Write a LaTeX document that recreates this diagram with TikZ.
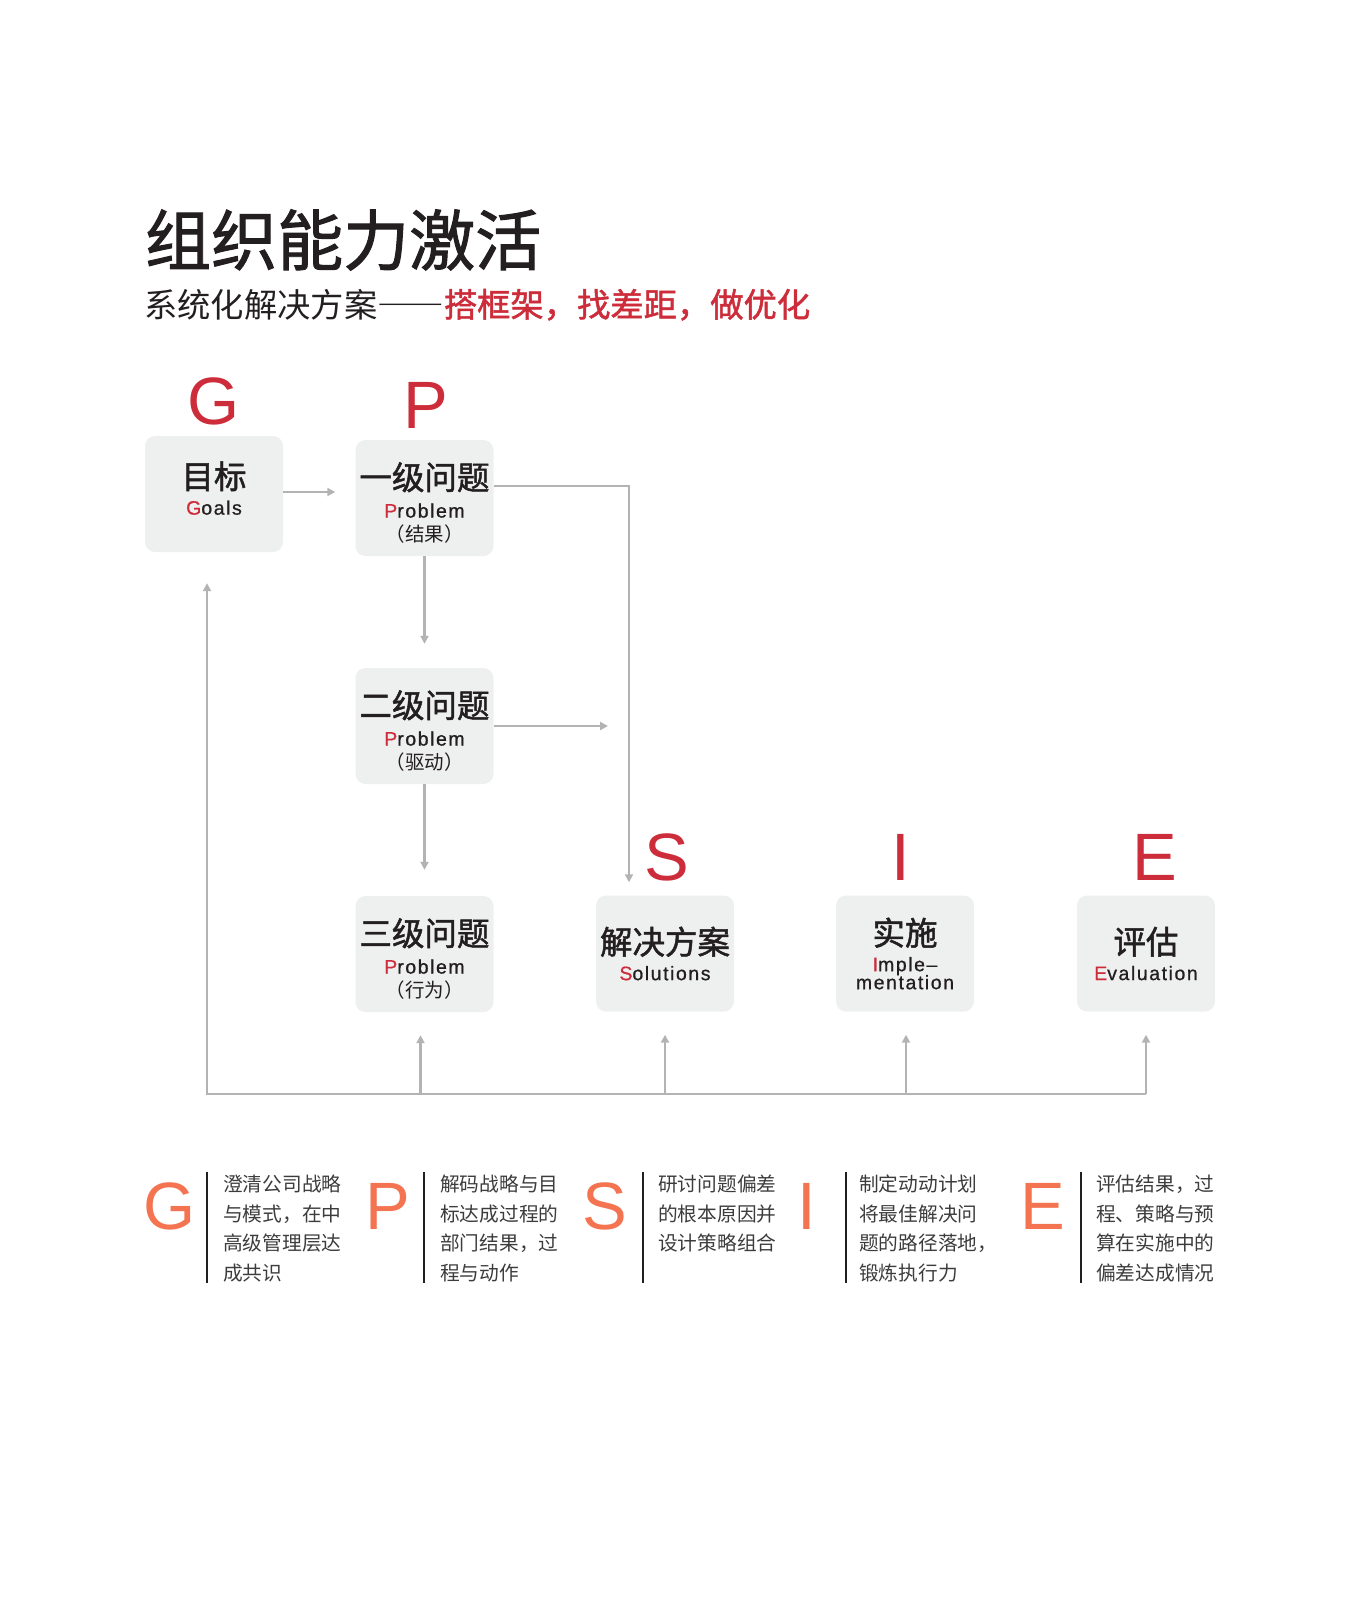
\documentclass[tikz,border=0pt]{standalone}
\usepackage{fontspec}
\setmainfont{Liberation Sans}
\newfontfamily\cjk{Noto Sans CJK SC}
\newfontfamily\cjkb[FakeBold=1.5]{Noto Sans CJK SC}
\newfontfamily\latinsp[LetterSpace=8,FakeBold=0.8]{Liberation Sans}
\usetikzlibrary{arrows.meta,positioning}
\definecolor{gpred}{HTML}{CD2D3B}
\definecolor{gporange}{HTML}{F47452}
\definecolor{boxgray}{HTML}{EEEFEF}
\definecolor{linegray}{HTML}{B3B3B3}
\definecolor{textdark}{HTML}{231F20}
\definecolor{desctext}{HTML}{3C3C3C}
\tikzstyle{gpbox}=[fill=boxgray,rounded corners=10pt,minimum width=138pt,minimum height=116pt,inner sep=0pt,align=center,text=textdark,font=\fontsize{19.5}{26}\selectfont]
\tikzstyle{bigletter}=[inner sep=0pt,anchor=base,text=gpred,font=\fontsize{67}{67}\selectfont]
\tikzstyle{lowletter}=[inner sep=0pt,anchor=base,text=gporange,font=\fontsize{67}{67}\selectfont]
\tikzstyle{conn}=[draw=linegray,line width=2.7pt,-{Triangle[length=8pt,width=8pt]}]
\tikzstyle{sepline}=[draw=textdark,line width=1.4pt]
\tikzstyle{desc}=[inner sep=0pt,anchor=base west,text=desctext,font=\cjk\fontsize{19.7}{29.5}\selectfont]
\newcommand{\boxhead}[1]{{\cjkb\fontsize{32.5}{32.5}\selectfont #1}}
\newcommand{\probhead}[1]{{\cjkb\fontsize{32.5}{32.5}\selectfont\rule{0pt}{37pt}#1}}
\newcommand{\descpar}[1]{\parbox[t]{150pt}{\baselineskip=29.5pt #1}}

\begin{document}
\begin{tikzpicture}[x=1pt,y=-1pt]
    \useasboundingbox (0,0) rectangle (1361,1613);

    \node (title) [inner sep=0pt,anchor=base west,text=textdark,font=\cjkb\fontsize{66}{66}\selectfont] at (145,265) {组织能力激活};
    \node (subtitle) [inner sep=0pt,anchor=base west,text=textdark,font=\cjk\fontsize{33.3}{33.3}\selectfont] at (144,317) {系统化解决方案――{\cjkb\color{gpred}搭框架，找差距，做优化}};

    \node (goals) [gpbox] at (214,494) {\boxhead{目标}\\{\latinsp{\color{gpred}G}oals}\rule[-12pt]{0pt}{12pt}};
    \node (p1) [gpbox] at (424.5,498) {\probhead{一级问题}\\[2pt]{\latinsp{\color{gpred}P}roblem}\\[-2pt]{\cjk （结果）}};
    \node (p2) [gpbox] at (424.5,726) {\probhead{二级问题}\\[2pt]{\latinsp{\color{gpred}P}roblem}\\[-2pt]{\cjk （驱动）}};
    \node (p3) [gpbox] at (424.5,954) {\probhead{三级问题}\\[2pt]{\latinsp{\color{gpred}P}roblem}\\[-2pt]{\cjk （行为）}};
    \node (sol) [gpbox] at (665,953.5) {\boxhead{解决方案}\\{\latinsp{\color{gpred}S}olutions}};
    \node (impl) [gpbox] at (905,953.5) {\boxhead{实施}\\{\latinsp{\color{gpred}I}mple–}\\[-8pt]{\latinsp mentation}};
    \node (eval) [gpbox] at (1146,953.5) {\boxhead{评估}\\{\latinsp{\color{gpred}E}valuation}};

    \node (lg) [bigletter] at (214,424) {G};
    \node (lp) [bigletter] at (426,428) {P};
    \node (ls) [bigletter] at (667,880) {S};
    \node (li) [bigletter] at (901,880) {I};
    \node (le) [bigletter] at (1155,880) {E};

    \coordinate (p2out) at (608,726);
    \coordinate (busL) at (207,1094);
    \coordinate (busR) at (1146,1094);

    \draw[conn] ([yshift=2pt]goals.east) -- ([xshift=-20pt,yshift=2pt]goals.east -| p1.west);
    \draw[conn] ([yshift=12pt]p1.east) -| ([xshift=-36pt,yshift=13pt]sol.north);
    \draw[conn] (p1.south) -- ([yshift=24pt]p2.north);
    \draw[conn] (p2.south) -- ([yshift=26pt]p3.north);
    \draw[conn] (p2.east) -- (p2out);
    \draw[conn] (busR) -- (busL) -- ([xshift=-7pt,yshift=-31pt]goals.south);
    \foreach \n/\dx in {p3/-4,sol/0,impl/1,eval/0}
        \draw[conn] ([xshift=\dx pt]\n.south |- busL) -- ([xshift=\dx pt,yshift=-23pt]\n.south);

    \node (dg) [lowletter] at (169.5,1229) {G};
    \node (dp) [lowletter] at (387.5,1229) {P};
    \node (ds) [lowletter] at (605,1229) {S};
    \node (di) [lowletter] at (807,1229) {I};
    \node (de) [lowletter] at (1043,1229) {E};

    \foreach \x in {207,424,643,846,1081}
        \draw[sepline] (\x,1172) -- (\x,1283);

    \node (tg) [desc] at (223,1191.5) {\descpar{澄清公司战略\\与模式，在中\\高级管理层达\\成共识}};
    \node (tp) [desc] at (440,1191.5) {\descpar{解码战略与目\\标达成过程的\\部门结果，过\\程与动作}};
    \node (ts) [desc] at (658,1191.5) {\descpar{研讨问题偏差\\的根本原因并\\设计策略组合}};
    \node (ti) [desc] at (859,1191.5) {\descpar{制定动动计划\\将最佳解决问\\题的路径落地，\\锻炼执行力}};
    \node (te) [desc] at (1096,1191.5) {\descpar{评估结果，过\\程、策略与预\\算在实施中的\\偏差达成情况}};
\end{tikzpicture}
\end{document}
